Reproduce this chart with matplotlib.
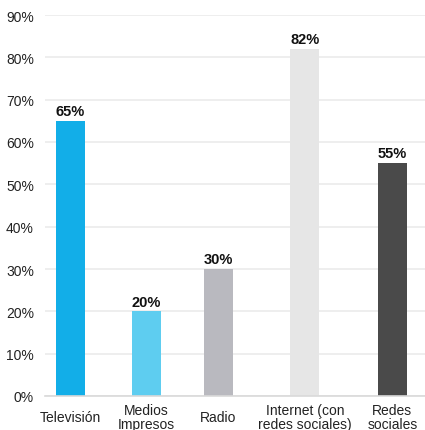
import numpy as np
import matplotlib
matplotlib.use('Agg')
import matplotlib.pyplot as plt

categories = ['Televisión', 'Medios\nImpresos', 'Radio', 'Internet (con\nredes sociales)', 'Redes\nsociales']
values = [65, 20, 30, 82, 55]
colors = ['#12aee8', '#5ecdf0', '#b9b9bf', '#e6e6e6', '#4a4a4a']

# bars are not evenly spaced
positions = np.array([0, 1, 1.95, 3.09, 4.24])

plt.rcParams['font.family'] = ['Liberation Sans', 'DejaVu Sans']

fig = plt.figure(figsize=(4.25, 4.31), dpi=100)
ax = fig.add_axes([45 / 425, 1 - 397 / 431, 380 / 425, 381 / 431])

bars = ax.bar(positions, values, width=0.38, color=colors, zorder=2)

for b, v in zip(bars, values):
    ax.annotate('%d%%' % v, (b.get_x() + b.get_width() / 2, v),
                xytext=(0, 2), textcoords='offset points',
                ha='center', va='bottom', fontsize=10.5, fontweight='bold',
                color='#111111', clip_on=False)

ax.set_ylim(0, 90)
ax.set_xlim(-0.33, 4.67)
ax.set_yticks(np.arange(0, 91, 10))
ax.set_yticklabels(['%d%%' % t for t in range(0, 91, 10)])
ax.set_xticks(positions)
ax.set_xticklabels(categories, linespacing=0.95, va='center')

ax.yaxis.grid(True, color='#ebebeb', linewidth=1.2, zorder=0)
ax.set_axisbelow(True)
for s in ['top', 'right', 'left']:
    ax.spines[s].set_visible(False)
ax.spines['bottom'].set_color('#d9d9d9')
ax.spines['bottom'].set_linewidth(1.2)

ax.tick_params(axis='y', length=0, pad=8, labelsize=10, labelcolor='#222222')
ax.tick_params(axis='x', length=0, pad=15, labelsize=10, labelcolor='#222222')

fig.savefig('out.png', dpi=100)
